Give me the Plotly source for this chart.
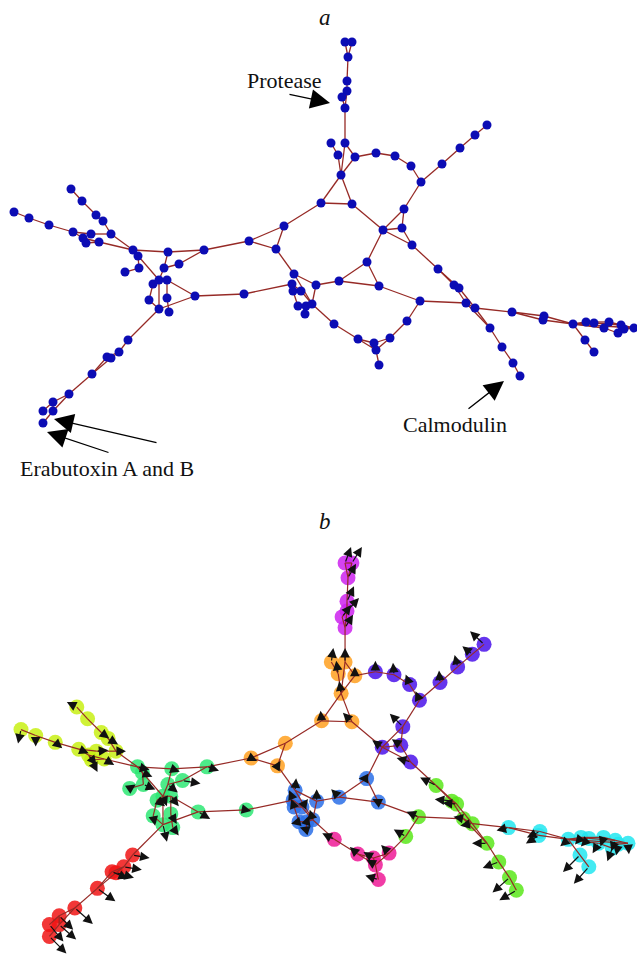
import plotly.graph_objects as go

# ---------------- data: node layout (panel a pixel units) ----------------
node_x = [345, 352, 348, 347, 347, 342, 345,
          345, 331, 338, 355, 341, 321, 352, 284, 249, 276,
          376, 395, 411, 421, 442, 460, 475, 487, 404, 383, 402, 412,
          367, 339, 379, 294, 292, 293, 301, 316, 298, 306, 312, 305,
          334, 358, 374, 376, 390, 379,
          420, 407, 438, 454, 459, 466, 475, 490, 502, 513, 520,
          512, 544, 543, 573, 586, 594, 604, 609, 621, 624, 618, 634, 585, 594,
          133, 138, 139, 125, 168, 204, 164, 179, 153, 159, 167, 149, 167, 195, 159, 169, 244,
          71, 82, 96, 103, 111, 14, 29, 49, 73, 83, 86, 91, 99,
          128, 119, 111, 107, 92, 69, 53, 43, 53, 43]
node_y = [42, 42, 57, 81, 91, 97, 108,
          143, 143, 155, 157, 175, 203, 204, 226, 241, 249,
          153, 156, 166, 182, 164, 148, 135, 125, 209, 230, 228, 245,
          262, 281, 286, 274, 284, 291, 291, 285, 306, 306, 304, 314,
          324, 339, 343, 350, 338, 365,
          301, 321, 269, 285, 288, 303, 308, 328, 347, 363, 376,
          312, 316, 320, 324, 322, 323, 328, 322, 325, 329, 333, 328, 340, 352,
          250, 256, 268, 272, 252, 250, 268, 264, 284, 280, 280, 300, 298, 296, 309, 312, 294,
          189, 201, 215, 221, 234, 212, 218, 225, 232, 238, 243, 234, 242,
          340, 352, 358, 357, 374, 394, 402, 411, 411, 423]
node_group = (["M"] * 7 + ["O"] * 10 + ["I"] * 12 + ["B"] * 12 + ["K"] * 6 +
              ["L"] * 11 + ["C"] * 14 + ["G"] * 17 + ["Y"] * 13 + ["R"] * 10)

edges = [(0, 2), (1, 2), (0, 1), (2, 3), (3, 4), (4, 5), (5, 6), (4, 6), (6, 7),
         (7, 10), (7, 11), (8, 9), (9, 11), (10, 11), (10, 17), (11, 12), (11, 13), (12, 13),
         (12, 14), (14, 15), (14, 16), (15, 16), (15, 77), (16, 32), (13, 26),
         (17, 18), (18, 19), (19, 20), (20, 21), (21, 22), (22, 23), (23, 24), (20, 25),
         (25, 26), (25, 27), (26, 27), (26, 28), (27, 28), (26, 29), (28, 49),
         (29, 30), (29, 31), (30, 31), (30, 36), (31, 47), (32, 36), (32, 39), (33, 34),
         (34, 35), (33, 35), (34, 37), (35, 39), (37, 38), (38, 39), (38, 40), (36, 39),
         (33, 88), (39, 41),
         (41, 42), (42, 43), (42, 44), (43, 44), (43, 45), (44, 45), (44, 46), (45, 48),
         (47, 48), (49, 50), (49, 51), (50, 51), (50, 52), (51, 53), (52, 53), (47, 52),
         (53, 58), (52, 54), (53, 54), (54, 55), (55, 56), (56, 57),
         (58, 59), (58, 60), (59, 61), (60, 61), (61, 62), (61, 63), (61, 64), (61, 69),
         (62, 65), (63, 66), (64, 68), (65, 66), (66, 69), (67, 69), (68, 67), (61, 70), (70, 71),
         (72, 73), (73, 74), (74, 75), (72, 81), (72, 76), (76, 77), (76, 78), (78, 79),
         (79, 77), (78, 81), (81, 80), (81, 82), (80, 83), (82, 84), (81, 86), (82, 85),
         (85, 86), (86, 83), (84, 87), (85, 88), (86, 102),
         (89, 90), (90, 91), (91, 92), (92, 93), (93, 72), (94, 95), (95, 96), (96, 97),
         (97, 100), (97, 98), (98, 99), (98, 101), (99, 101), (100, 93), (101, 72),
         (102, 103), (103, 104), (103, 105), (104, 106), (105, 106), (106, 107), (107, 108),
         (108, 109), (107, 110), (110, 111), (108, 110)]

# panel b: per-node vector (px) drawn as arrows
vec_dx = [6, 10, 8, 7, 12, 9, 8,
          0, 2, -2, 0, -2, -1, -9, 3, 6, 3,
          0, -1, -4, -4, -1, -3, -10, -14, -13, -10, -9, -14,
          -8, -8, -6, 1, -4, -3, 6, 0, -8, 2, -3, -6,
          -12, -8, -10, -9, -8, -13,
          -12, -12, -16, -17, -14, -10, -12, -15, -16, -17, -17,
          -12, -13, -13, -8, -6, -8, -6, -3, -4, -2, -5, 1, -17, -15,
          12, 10, 12, 6, 8, 12, 10, 18, 8, 4, 8, 2, 6, 12, 4, 6, 5,
          -10, 0, 8, 10, 10, -3, 0, 7, 10, 8, 6, 12, 10,
          17, 18, 18, 16, 18, 18, 14, 14, 17, 17]
vec_dy = [-16, -16, -14, -15, -13, -12, -13,
          -14, -14, -13, -9, -12, -10, -9, -3, 3, -5,
          -11, -12, -10, -9, -12, -12, -8, -13, -13, -7, -6, -4,
          0, -8, -3, -12, -10, -8, -8, -12, 2, -6, -10, -2,
          -6, -7, -6, -5, -8, -4,
          -5, -7, -8, -2, -1, -2, 2, 0, 6, 15, 10,
          3, 6, 8, 7, 7, 8, 10, 9, 11, 11, 13, 11, 17, 17,
          3, 4, 5, -4, 3, 4, 8, 3, 6, 10, 10, 10, 10, 7, 17, 8, 1,
          -5, 2, 6, 6, 0, 14, 11, 6, 4, 10, 12, -1, 6,
          3, 3, 5, 7, 13, 16, 14, 17, 15, 17]

group_colors = {"M": "#cc22ee", "O": "#ffa020", "I": "#4a12ea", "B": "#2a6ee8",
                "K": "#ee1a96", "L": "#5ae81a", "C": "#22e6f0", "G": "#2ee874",
                "Y": "#c8f014", "R": "#f01414"}

# ---------------- figure ----------------
W, H = 637, 954
SPLIT = 477                               # pixel row separating the panels
bx0, bs_x, by0, bs_y = 21, 0.979, 563, 0.98
b_xrange = [14 - bx0 / bs_x, 14 + (W - bx0) / bs_x]
b_yrange = [42 + (H - by0) / bs_y, 42 + (SPLIT - by0) / bs_y]
split_frac = (H - SPLIT) / H

ex, ey = [], []
for a, b in edges:
    ex += [node_x[a], node_x[b], None]
    ey += [node_y[a], node_y[b], None]

edge_color = "#962a26"
fig = go.Figure()
fig.add_trace(go.Scatter(x=ex, y=ey, mode="lines", line=dict(color=edge_color, width=1.3),
                         hoverinfo="skip", xaxis="x", yaxis="y"))
fig.add_trace(go.Scatter(x=node_x, y=node_y, mode="markers",
                         marker=dict(size=9, color="#0c0cb4", line=dict(width=0)),
                         xaxis="x", yaxis="y"))
fig.add_trace(go.Scatter(x=node_x, y=node_y, mode="markers",
                         marker=dict(size=15, color=[group_colors[g] for g in node_group],
                                     opacity=0.85, line=dict(width=0)),
                         xaxis="x2", yaxis="y2"))
fig.add_trace(go.Scatter(x=ex, y=ey, mode="lines", line=dict(color=edge_color, width=1.2),
                         hoverinfo="skip", xaxis="x2", yaxis="y2"))

ann = []
for i in range(len(node_x)):
    ann.append(dict(x=node_x[i] + vec_dx[i] / bs_x, y=node_y[i] + vec_dy[i] / bs_y,
                    ax=node_x[i], ay=node_y[i], xref="x2", yref="y2",
                    axref="x2", ayref="y2", showarrow=True, arrowhead=2,
                    arrowsize=1.6, arrowwidth=1.2, arrowcolor="#111111", text=""))

serif = "Liberation Serif"
big = dict(xref="x", yref="y", axref="x", ayref="y", showarrow=True, arrowhead=2,
           arrowsize=3.0, arrowwidth=1.3, arrowcolor="#000000", text="")
ann += [dict(big, x=330, y=103, ax=288, ay=94),
        dict(big, x=504, y=381, ax=467, ay=410),
        dict(big, x=54, y=419, ax=158, ay=443),
        dict(big, x=47, y=432, ax=110, ay=453)]
ann += [dict(x=325, y=17, xref="x", yref="y", text="<i>a</i>", showarrow=False,
             font=dict(family=serif, size=23, color="#111")),
        dict(x=284, y=80, xref="x", yref="y", text="Protease", showarrow=False,
             font=dict(family=serif, size=22, color="#111")),
        dict(x=455, y=424, xref="x", yref="y", text="Calmodulin", showarrow=False,
             font=dict(family=serif, size=22, color="#111")),
        dict(x=107, y=468, xref="x", yref="y", text="Erabutoxin A and B", showarrow=False,
             font=dict(family=serif, size=22, color="#111")),
        dict(x=14 + (325 - bx0) / bs_x, y=42 + (521 - by0) / bs_y, xref="x2", yref="y2",
             text="<i>b</i>", showarrow=False, font=dict(family=serif, size=23, color="#111"))]

hid = dict(visible=False, showgrid=False, zeroline=False)
fig.update_layout(
    width=W, height=H, margin=dict(l=0, r=0, t=0, b=0),
    paper_bgcolor="white", plot_bgcolor="white", showlegend=False,
    xaxis=dict(hid, domain=[0, 1], range=[0, W]),
    yaxis=dict(hid, domain=[split_frac, 1], range=[SPLIT, 0]),
    xaxis2=dict(hid, domain=[0, 1], range=b_xrange),
    yaxis2=dict(hid, domain=[0, split_frac], range=b_yrange),
    annotations=ann,
)
fig.write_html("out.html", config={"displayModeBar": False},
               post_script="document.body.style.margin='0';document.body.style.overflow='hidden';")
